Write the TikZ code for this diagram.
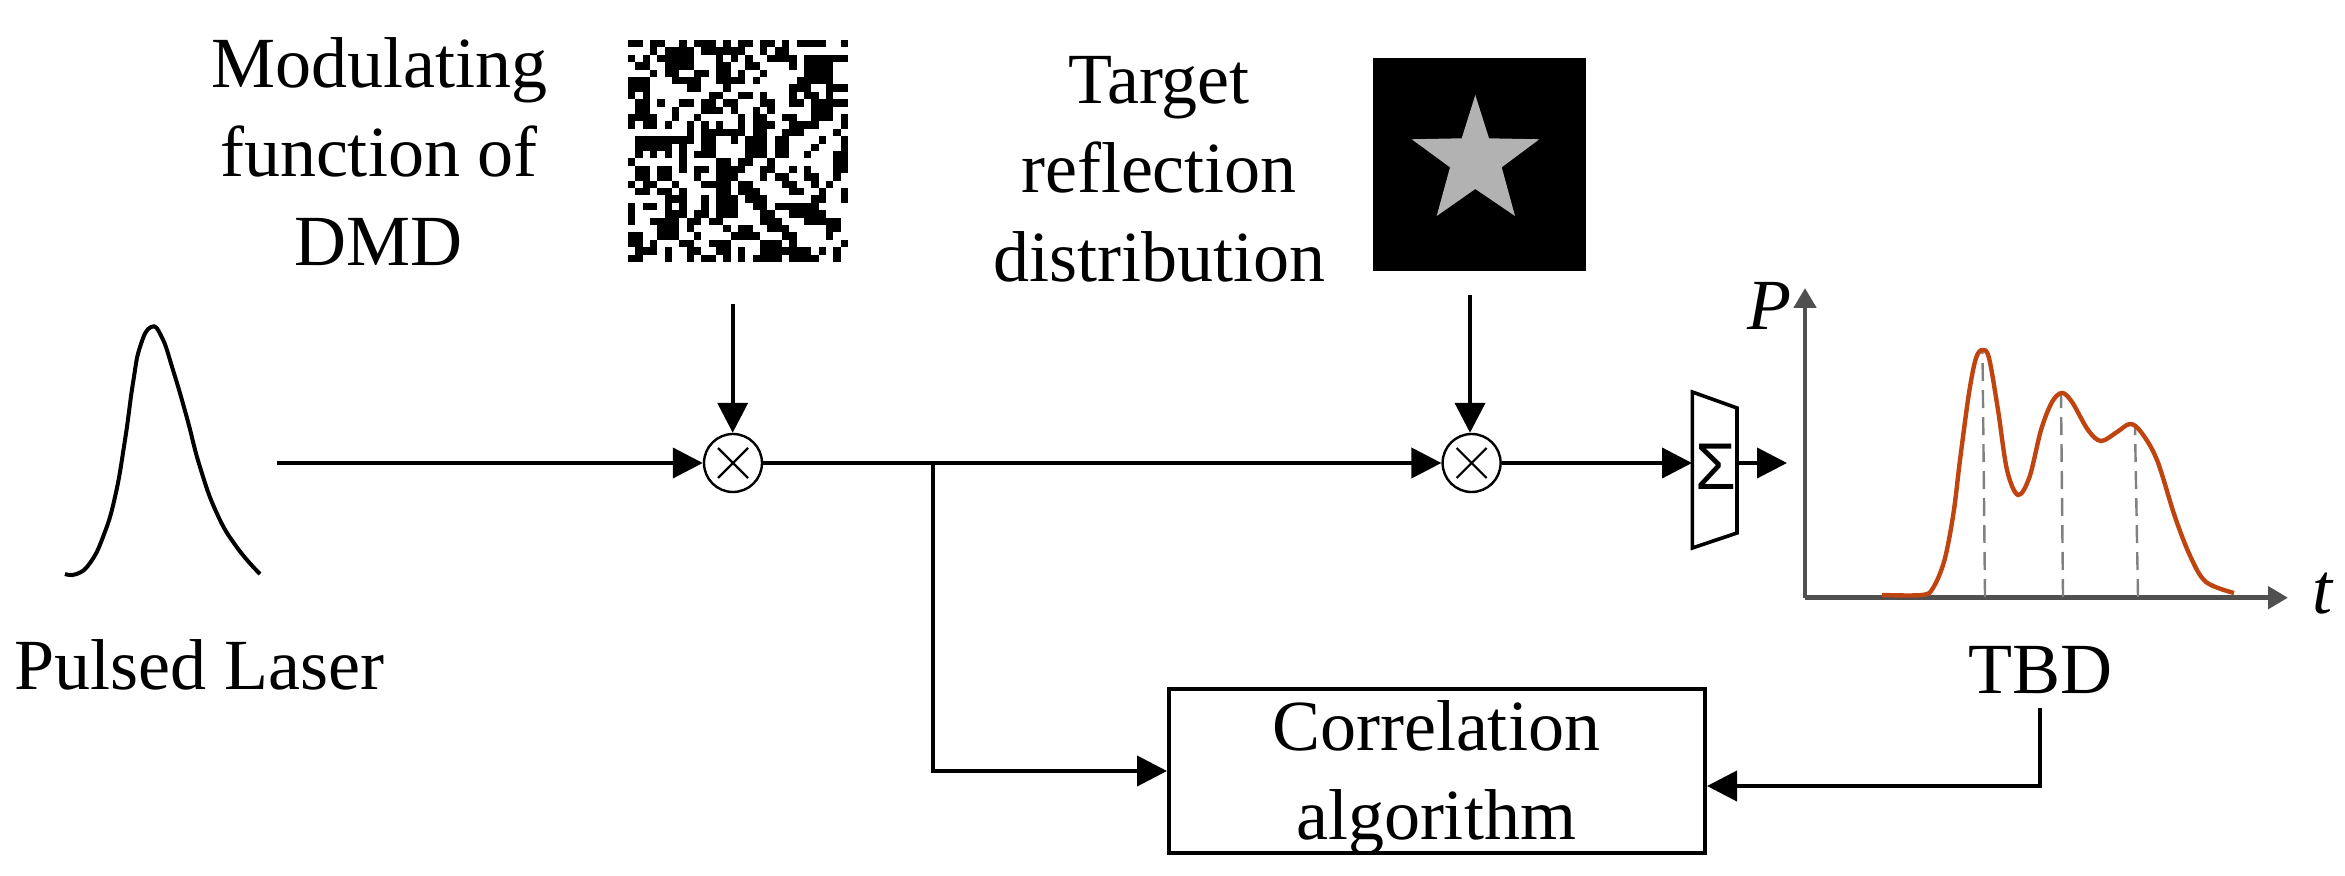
\documentclass[tikz,border=0pt]{standalone}
\usepackage{fontspec}
\setmainfont{Liberation Serif}
\newfontfamily\sumfont{Liberation Sans}
\usetikzlibrary{arrows.meta}
\tikzset{
  px/.style={x=0.5pt,y=-0.5pt},
  conn/.style={line width=2pt,line join=miter,-{Triangle[length=15pt,width=15pt]}},
  lbl/.style={font=\fontsize{36}{44.5}\selectfont,align=center,inner sep=0pt},
  mix/.style={circle,draw,line width=1.2pt,minimum size=29pt,inner sep=0pt,fill=white},
  axis/.style={draw=axisgray,line width=2.4pt,-{Triangle[length=10pt,width=11pt]}},
  marker/.style={draw=markgray,line width=1.2pt,dash pattern=on 9pt off 4.5pt},
}
\definecolor{axisgray}{HTML}{505050}
\definecolor{markgray}{HTML}{808080}
\definecolor{curve}{HTML}{C0440F}
\definecolor{stargray}{gray}{0.7}
\begin{document}
\begin{tikzpicture}[px]
\useasboundingbox (0,0) rectangle (2345,876);
% texts
\node[lbl] (mod) at (379,152) {Modulating\\function of\\DMD};
\node[lbl] (tgt) at (1159,169) {Target\\reflection\\distribution};
\node[lbl] (laser) at (199,665) {Pulsed Laser};
\node[lbl] (tbd) at (2040,670) {TBD};
\node[lbl,font=\fontsize{36}{44.5}\selectfont\itshape] (P) at (1769,306) {P};
\node[lbl,font=\fontsize{36}{44.5}\selectfont\itshape] (t) at (2322,594) {t};
% modulating pattern
\foreach \r/\runs in {
0/{0/1,3/4,7/7,9/11,13/13,15/16,18/19,21/21,23/26,29/29},
1/{3/3,5/8,10/15,18/18,20/21},
2/{0/0,2/2,4/8,12/12,14/14,16/16,19/22,24/29},
3/{1/2,5/8,12/13,16/17,22/22,24/27},
4/{3/3,5/6,9/10,12/13,15/15,18/18,24/27},
5/{0/2,6/9,12/15,17/17,23/27},
6/{0/2,8/9,13/13,22/24,27/29},
7/{0/0,2/2,11/12,15/16,18/18,22/22,24/25,27/27},
8/{1/2,4/4,7/8,10/11,13/14,18/19,22/23,25/29},
9/{1/2,6/6,10/12,14/14,17/17,19/19,25/27},
10/{0/0,1/3,6/6,9/9,15/15,17/18,21/22,25/27,29/29},
11/{0/0,2/3,5/5,8/8,10/10,12/12,15/15,17/19,22/25,29/29},
12/{8/8,10/11,12/15,17/18,21/23,28/28},
13/{1/8,10/11,14/14,16/18,20/21,26/26,29/29},
14/{1/5,7/7,10/11,16/18,20/21,25/25,29/29},
15/{1/1,3/3,5/5,7/7,9/11,16/18,20/21,24/24,28/29},
16/{0/0,7/7,12/13,15/16,19/19,28/29},
17/{1/2,4/5,7/7,9/10,12/15,18/19,22/22,24/24,28/29},
18/{1/2,4/5,9/9,12/14,18/18,20/21,24/25,28/28},
19/{0/0,2/3,6/6,10/13,15/16,21/22,25/25,27/27},
20/{1/2,4/5,7/7,12/13,15/17,22/23,26/26,29/29},
21/{5/7,10/10,12/14,16/18,25/26,29/29},
22/{0/0,2/3,5/5,7/7,10/10,12/14,17/18,20/25},
23/{0/0,5/7,9/10,12/14,18/19,22/26},
24/{0/0,3/6,8/9,11/12,18/20,24/28},
25/{4/6,8/8,13/13,15/16,19/21,27/28},
26/{0/1,4/6,9/9,14/17,21/22,27/27},
27/{0/1,3/3,7/8,11/13,18/20,22/22,29/29},
28/{1/2,3/3,5/5,8/9,12/13,15/15,18/21,22/24,26/26,28/28},
29/{0/1,5/5,8/8,10/11,13/13,15/15,17/20,22/25,28/28}}{
  \foreach \a/\b in \runs {
    \fill (628+7.33*\a,40+7.4*\r) rectangle (628+7.33*\b+7.33,40+7.4*\r+7.4);
  }
}
% star image
\node[fill=black,minimum size=106.5pt,inner sep=0pt] (img) at (1479.5,164.5) {};
\fill[stargray] (1475.3,95) -- (1489,138.3) -- (1539.3,139.3) -- (1501.7,167.3) -- (1515,216) -- (1475.3,189) -- (1436.7,216) -- (1450,167.3) -- (1411.7,139.3) -- (1461.7,138.3) -- cycle;
% pulse
\draw[line width=2pt] plot[smooth,tension=0.8] coordinates {(65,574) (76.7,574) (90,563) (103,537) (115,497) (125,440) (133,383) (140,347) (151,327) (161.7,337) (173,370) (186.7,417) (200,467) (216.7,513) (236.7,547) (260,574)};
% mixers
\node[mix] (m1) at (733,463) {};
\node[mix] (m2) at (1471.6,463) {};
\foreach \m in {m1,m2}{
  \draw[line width=1.1pt] (\m.center) ++(-15,-15) -- ++(30,30);
  \draw[line width=1.1pt] (\m.center) ++(15,-15) -- ++(-30,30);
}
% sum box
\coordinate (sl1) at (1692.3,392); \coordinate (sl2) at (1692.3,548);
\coordinate (sr1) at (1737,408); \coordinate (sr2) at (1737,533);
\draw[line width=1.8pt,line join=miter] (sl1) -- (sr1) -- (sr2) -- (sl2) -- cycle;
\node[inner sep=0pt,font=\sumfont\fontsize{33}{33}\selectfont] (sum) at (1716,467) {Σ};
% box
\node[draw,line width=2pt,minimum width=268pt,minimum height=81.8pt,inner sep=0pt] (corr) at (1437,771) {};
\node[lbl] (corrtext) at (1436,778) {Correlation\\algorithm};
% free ends and connectors
\coordinate (src) at (277,463);
\coordinate (dmdout) at (732.7,304);
\coordinate (imgout) at (1470,295);
\coordinate (branch) at (933,463);
\coordinate (bend) at (933,771);
\coordinate (tbdout) at (2040,708);
\coordinate (tbdbend) at (2040,786);
\coordinate (sumin) at (1692,463);
\coordinate (sumout) at (1737,463);
\coordinate (sumtip) at (1787,463);
\draw[conn] (src) -- (m1);
\draw[conn] (dmdout) -- (dmdout |- m1.north);
\draw[conn] (m1) -- (m2);
\draw[conn] (imgout) -- (imgout |- m2.north);
\draw[conn] (m2) -- (sumin);
\draw[conn] (sumout) -- (sumtip);
\draw[conn] (branch) -- (bend) -- (bend -| corr.west);
\draw[conn] (tbdout) -- (tbdbend) -- (tbdbend -| corr.east);
% plot
\coordinate (o) at (1805,597.7);
\coordinate (ytip) at (1805,288);
\coordinate (xtip) at (2288,597.7);
\draw[axis] (o) -- (ytip);
\draw[axis] (o) -- (xtip);
\draw[marker] (1985,597) -- (1982.5,352);
\draw[marker] (2063,597) -- (2061,395);
\draw[marker] (2138,597) -- (2135,428);
\draw[curve,line width=2.2pt] plot[smooth,tension=0.55] coordinates {(1882,595) (1922,595) (1933,588) (1944.5,560) (1953.5,513) (1960,460) (1969,393) (1976,358) (1982.6,350) (1989,358) (1998,410) (2007,470) (2018,495) (2029.5,477) (2041,430) (2052,402) (2062,393) (2072,402) (2088,430) (2101,441) (2117,432) (2130,424) (2141,432) (2157,460) (2175,517) (2190.6,557) (2206,582) (2234,593)};
\end{tikzpicture}
\end{document}
